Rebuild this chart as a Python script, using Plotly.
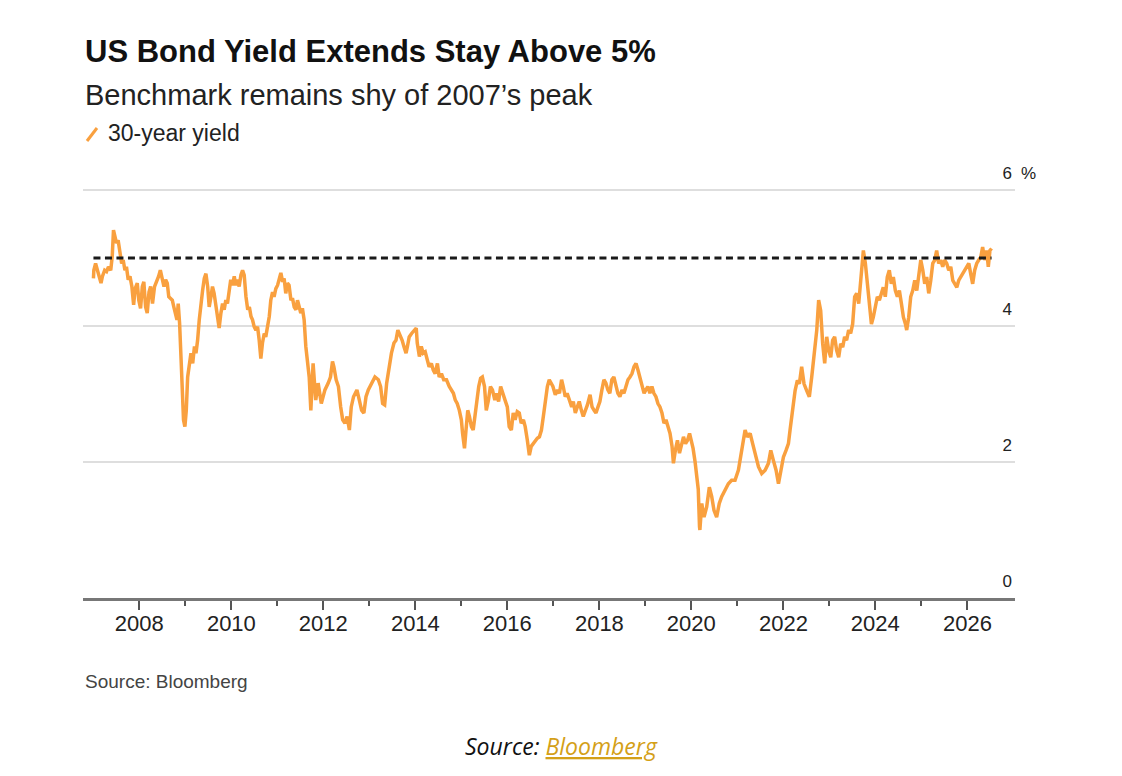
import plotly.graph_objects as go

# ---------------- data ----------------
dates = [
    "2007-01-02", "2007-01-05", "2007-01-19", "2007-02-03", "2007-02-17", "2007-03-03", "2007-03-14",
    "2007-04-01", "2007-04-16", "2007-05-01", "2007-05-19", "2007-05-31", "2007-06-10", "2007-06-21",
    "2007-07-04", "2007-07-17", "2007-07-31", "2007-08-14", "2007-08-26", "2007-09-09", "2007-09-21",
    "2007-10-05", "2007-10-19", "2007-11-03", "2007-11-17", "2007-11-29", "2007-12-16", "2007-12-28",
    "2008-01-11", "2008-01-25", "2008-02-06", "2008-02-20", "2008-03-04", "2008-03-18", "2008-03-31",
    "2008-04-15", "2008-05-01", "2008-05-18", "2008-06-02", "2008-06-16", "2008-06-29", "2008-07-15",
    "2008-07-28", "2008-08-10", "2008-08-22", "2008-09-05", "2008-09-19", "2008-10-01", "2008-10-15",
    "2008-10-26", "2008-11-05", "2008-11-16", "2008-11-28", "2008-12-06", "2008-12-17", "2008-12-28",
    "2009-01-08", "2009-01-19", "2009-02-02", "2009-02-14", "2009-02-28", "2009-03-14", "2009-03-26",
    "2009-04-08", "2009-04-21", "2009-05-05", "2009-05-18", "2009-05-31", "2009-06-13", "2009-06-27",
    "2009-07-09", "2009-07-23", "2009-08-04", "2009-08-17", "2009-08-31", "2009-09-13", "2009-09-26",
    "2009-10-10", "2009-10-23", "2009-11-05", "2009-11-18", "2009-12-01", "2009-12-15", "2009-12-27",
    "2010-01-10", "2010-01-24", "2010-02-05", "2010-02-19", "2010-03-04", "2010-03-18", "2010-03-31",
    "2010-04-13", "2010-04-27", "2010-05-11", "2010-05-24", "2010-06-06", "2010-06-18", "2010-07-01",
    "2010-07-15", "2010-07-28", "2010-08-10", "2010-08-23", "2010-09-05", "2010-09-19", "2010-10-01",
    "2010-10-15", "2010-10-29", "2010-11-10", "2010-11-24", "2010-12-06", "2010-12-20", "2011-01-03",
    "2011-01-15", "2011-01-29", "2011-02-12", "2011-02-24", "2011-03-09", "2011-03-22", "2011-04-04",
    "2011-04-19", "2011-05-01", "2011-05-15", "2011-05-29", "2011-06-10", "2011-06-24", "2011-07-06",
    "2011-07-19", "2011-08-02", "2011-08-15", "2011-08-28", "2011-09-11", "2011-09-24", "2011-10-12",
    "2011-11-02", "2011-11-21", "2011-12-16", "2012-01-14", "2012-02-09", "2012-02-27", "2012-03-14",
    "2012-03-25", "2012-04-12", "2012-04-30", "2012-05-18", "2012-06-03", "2012-06-21", "2012-07-08",
    "2012-07-26", "2012-08-10", "2012-08-28", "2012-09-24", "2012-10-13", "2012-10-31", "2012-11-18",
    "2012-12-05", "2012-12-23", "2013-01-19", "2013-02-14", "2013-03-13", "2013-03-31", "2013-04-16",
    "2013-05-02", "2013-05-18", "2013-06-07", "2013-06-25", "2013-07-15", "2013-07-31", "2013-08-15",
    "2013-09-02", "2013-09-18", "2013-10-02", "2013-10-19", "2013-10-30", "2013-11-13", "2013-12-02",
    "2013-12-20", "2014-01-08", "2014-01-16", "2014-02-02", "2014-02-17", "2014-03-04", "2014-03-20",
    "2014-04-06", "2014-04-20", "2014-05-08", "2014-05-23", "2014-06-07", "2014-06-25", "2014-07-09",
    "2014-07-27", "2014-08-14", "2014-09-05", "2014-09-27", "2014-10-13", "2014-10-30", "2014-11-14",
    "2014-11-29", "2014-12-16", "2015-01-01", "2015-01-11", "2015-01-26", "2015-02-07", "2015-02-21",
    "2015-03-06", "2015-03-22", "2015-04-05", "2015-04-19", "2015-05-01", "2015-05-19", "2015-06-03",
    "2015-06-17", "2015-07-04", "2015-07-18", "2015-08-04", "2015-08-20", "2015-09-05", "2015-09-24",
    "2015-10-08", "2015-10-24", "2015-11-09", "2015-11-24", "2015-12-14", "2016-01-01", "2016-01-16",
    "2016-02-02", "2016-02-17", "2016-03-03", "2016-03-20", "2016-04-05", "2016-04-20", "2016-05-08",
    "2016-05-22", "2016-06-08", "2016-06-24", "2016-07-09", "2016-07-26", "2016-08-10", "2016-08-26",
    "2016-09-12", "2016-09-28", "2016-10-13", "2016-10-30", "2016-11-14", "2016-11-29", "2016-12-28",
    "2017-01-16", "2017-02-03", "2017-02-18", "2017-03-07", "2017-03-20", "2017-04-05", "2017-04-20",
    "2017-05-07", "2017-05-26", "2017-06-08", "2017-06-24", "2017-07-10", "2017-07-25", "2017-08-11",
    "2017-08-26", "2017-09-12", "2017-09-28", "2017-10-19", "2017-11-04", "2017-11-20", "2017-12-05",
    "2017-12-21", "2018-01-05", "2018-01-21", "2018-02-06", "2018-02-22", "2018-03-09", "2018-03-25",
    "2018-04-10", "2018-04-26", "2018-05-12", "2018-05-28", "2018-06-13", "2018-06-29", "2018-07-15",
    "2018-07-31", "2018-08-16", "2018-09-01", "2018-09-17", "2018-10-03", "2018-10-19", "2018-11-04",
    "2018-11-20", "2018-12-06", "2018-12-22", "2019-01-05", "2019-01-21", "2019-02-06", "2019-02-22",
    "2019-03-10", "2019-03-26", "2019-04-11", "2019-04-27", "2019-05-13", "2019-05-29", "2019-06-14",
    "2019-06-30", "2019-07-16", "2019-08-01", "2019-08-12", "2019-08-28", "2019-09-13", "2019-09-29",
    "2019-10-15", "2019-10-31", "2019-11-16", "2019-12-02", "2019-12-18", "2020-01-01", "2020-01-15",
    "2020-01-31", "2020-02-12", "2020-02-25", "2020-03-06", "2020-03-09", "2020-03-24", "2020-04-11",
    "2020-05-02", "2020-05-23", "2020-06-11", "2020-06-29", "2020-07-20", "2020-08-10", "2020-08-29",
    "2020-09-24", "2020-10-21", "2020-11-16", "2020-12-13", "2021-01-09", "2021-02-05", "2021-03-03",
    "2021-03-21", "2021-04-12", "2021-05-02", "2021-05-21", "2021-06-17", "2021-07-13", "2021-08-09",
    "2021-09-04", "2021-09-23", "2021-10-14", "2021-11-04", "2021-11-23", "2021-12-11", "2022-01-01",
    "2022-01-22", "2022-02-10", "2022-02-23", "2022-03-16", "2022-04-04", "2022-04-22", "2022-05-08",
    "2022-05-26", "2022-06-14", "2022-07-05", "2022-07-26", "2022-08-14", "2022-09-02", "2022-09-23",
    "2022-10-08", "2022-10-24", "2022-11-09", "2022-11-25", "2022-12-11", "2022-12-27", "2023-01-12",
    "2023-01-27", "2023-02-12", "2023-02-28", "2023-03-16", "2023-04-01", "2023-04-17", "2023-05-02",
    "2023-05-18", "2023-06-03", "2023-06-19", "2023-07-05", "2023-07-21", "2023-08-06", "2023-08-22",
    "2023-09-07", "2023-09-17", "2023-09-28", "2023-10-14", "2023-10-30", "2023-11-15", "2023-12-01",
    "2023-12-16", "2024-01-01", "2024-01-17", "2024-02-02", "2024-02-18", "2024-03-04", "2024-03-20",
    "2024-04-05", "2024-04-21", "2024-05-07", "2024-05-23", "2024-06-08", "2024-06-24", "2024-07-10",
    "2024-07-26", "2024-08-11", "2024-08-27", "2024-09-06", "2024-09-22", "2024-10-08", "2024-10-24",
    "2024-11-09", "2024-11-25", "2024-12-11", "2024-12-27", "2025-01-12", "2025-01-27", "2025-02-12",
    "2025-02-28", "2025-03-16", "2025-04-01", "2025-04-17", "2025-05-02", "2025-05-18", "2025-06-03",
    "2025-06-19", "2025-07-05", "2025-07-21", "2025-08-06", "2025-08-22", "2025-09-07", "2025-09-23",
    "2025-10-09", "2025-10-24", "2025-11-09", "2025-11-25", "2025-12-11", "2025-12-27", "2026-01-12",
    "2026-01-27", "2026-02-12", "2026-02-28", "2026-03-16", "2026-04-01", "2026-04-17", "2026-05-02",
    "2026-05-18", "2026-06-03", "2026-06-16", "2026-06-29", "2026-07-12",
]

yield_30y = [
    4.70, 4.82, 4.92, 4.82, 4.73, 4.63, 4.73,
    4.82, 4.80, 4.87, 4.82, 5.02, 5.41, 5.31,
    5.22, 5.26, 5.07, 4.92, 4.97, 4.82, 4.87,
    4.68, 4.73, 4.58, 4.31, 4.55, 4.63, 4.38,
    4.26, 4.58, 4.65, 4.28, 4.19, 4.50, 4.58,
    4.33, 4.58, 4.65, 4.73, 4.82, 4.70, 4.58,
    4.68, 4.63, 4.43, 4.41, 4.38, 4.28, 4.19,
    4.09, 4.33, 4.04, 3.50, 3.01, 2.62, 2.52,
    2.76, 3.25, 3.50, 3.60, 3.45, 3.70, 3.60,
    3.79, 4.09, 4.38, 4.53, 4.70, 4.77, 4.58,
    4.28, 4.43, 4.58, 4.48, 4.28, 4.14, 3.97,
    4.19, 4.33, 4.24, 4.38, 4.33, 4.53, 4.68,
    4.60, 4.73, 4.60, 4.68, 4.58, 4.75, 4.82,
    4.75, 4.43, 4.24, 4.28, 4.14, 4.09, 3.99,
    3.94, 3.99, 3.79, 3.52, 3.75, 3.89, 3.84,
    3.99, 4.14, 4.38, 4.50, 4.43, 4.55, 4.60,
    4.68, 4.78, 4.65, 4.70, 4.48, 4.63, 4.60,
    4.38, 4.41, 4.28, 4.24, 4.38, 4.28, 4.19,
    4.26, 4.09, 3.70, 3.45, 3.25, 2.76, 3.45,
    2.91, 3.16, 2.86, 3.06, 3.16, 3.25, 3.48,
    3.40, 3.21, 3.11, 2.81, 2.62, 2.57, 2.67,
    2.47, 2.81, 2.96, 3.06, 2.91, 2.76, 2.72,
    2.96, 3.06, 3.16, 3.25, 3.21, 3.11, 2.86,
    2.84, 3.16, 3.40, 3.60, 3.75, 3.79, 3.94,
    3.87, 3.79, 3.70, 3.60, 3.70, 3.84, 3.89,
    3.94, 3.97, 3.75, 3.55, 3.70, 3.60, 3.62,
    3.50, 3.40, 3.45, 3.35, 3.30, 3.45, 3.25,
    3.30, 3.21, 3.21, 3.11, 3.06, 3.01, 2.91,
    2.86, 2.76, 2.62, 2.42, 2.20, 2.47, 2.76,
    2.67, 2.52, 2.47, 2.67, 2.86, 3.11, 3.23,
    3.25, 3.11, 2.76, 2.91, 3.11, 3.06, 2.91,
    3.01, 2.89, 3.11, 3.01, 2.91, 2.81, 2.52,
    2.47, 2.72, 2.62, 2.74, 2.72, 2.57, 2.62,
    2.52, 2.32, 2.10, 2.23, 2.27, 2.32, 2.35,
    2.37, 2.47, 2.67, 2.91, 3.11, 3.21, 3.11,
    2.99, 3.06, 3.01, 3.21, 3.11, 2.96, 3.01,
    2.91, 2.81, 2.89, 2.72, 2.81, 2.89, 2.76,
    2.67, 2.76, 2.84, 2.99, 2.81, 2.76, 2.72,
    2.81, 2.89, 3.06, 3.21, 3.16, 3.06, 3.01,
    3.21, 3.25, 3.11, 3.01, 2.96, 3.06, 3.01,
    3.11, 3.21, 3.25, 3.30, 3.40, 3.45, 3.35,
    3.25, 3.11, 3.01, 3.06, 3.11, 3.01, 3.11,
    3.01, 2.96, 2.86, 2.81, 2.72, 2.57, 2.62,
    2.52, 2.42, 2.23, 1.98, 2.18, 2.32, 2.13,
    2.23, 2.37, 2.27, 2.32, 2.42, 2.32, 2.20,
    2.00, 1.80, 1.60, 1.05, 1.00, 1.39, 1.19,
    1.34, 1.63, 1.49, 1.29, 1.19, 1.39, 1.49,
    1.58, 1.68, 1.73, 1.73, 1.88, 2.17, 2.47,
    2.37, 2.42, 2.27, 2.12, 1.93, 1.83, 1.88,
    1.98, 2.17, 2.02, 1.88, 1.68, 1.88, 2.07,
    2.17, 2.27, 2.47, 2.76, 3.05, 3.20, 3.15,
    3.40, 3.15, 3.05, 2.96, 3.25, 3.54, 3.94,
    4.38, 4.23, 3.74, 3.45, 3.84, 3.64, 3.54,
    3.79, 3.84, 3.64, 3.54, 3.74, 3.69, 3.84,
    3.79, 3.94, 3.89, 4.03, 4.43, 4.48, 4.33,
    4.62, 4.92, 5.11, 4.92, 4.62, 4.33, 4.03,
    4.13, 4.28, 4.43, 4.38, 4.48, 4.57, 4.43,
    4.72, 4.82, 4.62, 4.72, 4.52, 4.43, 4.52,
    4.33, 4.13, 4.03, 3.94, 4.13, 4.43, 4.52,
    4.67, 4.52, 4.72, 4.97, 4.82, 4.62, 4.72,
    4.48, 4.67, 4.92, 4.97, 5.11, 4.92, 4.97,
    4.87, 4.97, 4.92, 4.82, 4.87, 4.67, 4.62,
    4.57, 4.67, 4.72, 4.77, 4.82, 4.87, 4.92,
    4.77, 4.62, 4.82, 4.92, 4.97, 5.01, 5.16,
    4.97, 5.11, 4.87, 5.11, 5.14,
]

peak_level = 5.0
y_tick_values = [0, 2, 4, 6]
y_tick_labels = ["0", "2", "4", "6"]
minor_tick_dates = ["2009-01-01", "2011-01-01", "2013-01-01", "2015-01-01", "2017-01-01",
                    "2019-01-01", "2021-01-01", "2023-01-01", "2025-01-01"]
x_range = ["2006-10-11", "2027-01-14"]
y_range = [0, 6.5]

title_text = "US Bond Yield Extends Stay Above 5%"
subtitle_text = "Benchmark remains shy of 2007\u2019s peak"
legend_text = "30-year yield"
source_text = "Source: Bloomberg"

ORANGE = "#F9A03F"
SANS = "Liberation Sans, Arial, Helvetica, sans-serif"

# plot area: x 83..1015 px, y 156..598 px
fig = go.Figure()

fig.add_trace(go.Scatter(
    x=dates, y=yield_30y, mode="lines",
    line=dict(color=ORANGE, width=3.5),
    name=legend_text, showlegend=False, hoverinfo="skip",
))

fig.add_trace(go.Scatter(
    x=[dates[0], dates[-1]], y=[peak_level, peak_level], mode="lines",
    line=dict(color="#1a1a1a", width=3, dash="7px,4.5px"),
    showlegend=False, hoverinfo="skip",
))

H = 442.0  # plot height in px
def py(px_y):
    return (598 - px_y) / H

annotations = [
    dict(text="<b>" + title_text + "</b>", x=0, y=py(52), xref="paper", yref="paper",
         xanchor="left", yanchor="middle", showarrow=False,
         font=dict(family=SANS, size=31, color="#111111")),
    dict(text=subtitle_text, x=0, y=py(95), xref="paper", yref="paper",
         xanchor="left", yanchor="middle", showarrow=False,
         font=dict(family=SANS, size=29, color="#222222")),
    dict(text=legend_text, x=0.0247, y=py(133), xref="paper", yref="paper",
         xanchor="left", yanchor="middle", showarrow=False,
         font=dict(family=SANS, size=23, color="#222222")),
    dict(text="%", x=1, y=6, xref="paper", yref="y", xanchor="left", yanchor="middle",
         xshift=4, yshift=17, showarrow=False,
         font=dict(family=SANS, size=17, color="#222222")),
    dict(text=source_text, x=0, y=py(681), xref="paper", yref="paper",
         xanchor="left", yanchor="middle", showarrow=False,
         font=dict(family=SANS, size=19, color="#444444")),
    dict(text="<i>Source: <span style='color:#D4A017;text-decoration:underline'>Bloomberg</span></i>",
         x=0.5129, y=py(746), xref="paper", yref="paper",
         xanchor="center", yanchor="middle", showarrow=False,
         font=dict(family="Open Sans, sans-serif", size=23, color="#111111")),
]

shapes = [
    dict(type="line", xref="paper", yref="paper", x0=0.0043, y0=py(141), x1=0.0150, y1=py(128),
         line=dict(color=ORANGE, width=3)),
]

fig.update_layout(
    width=1122, height=776,
    margin=dict(l=83, r=107, t=156, b=178),
    paper_bgcolor="white", plot_bgcolor="white",
    annotations=annotations, shapes=shapes,
    xaxis=dict(
        type="date", range=x_range,
        tick0="2008-01-01", dtick="M24", tickformat="%Y",
        ticks="outside", ticklen=9, tickwidth=2, tickcolor="#555555",
        ticklabelstandoff=-5,
        showline=True, linecolor="#777777", linewidth=2.5,
        showgrid=False, zeroline=False,
        tickfont=dict(family=SANS, size=22, color="#222222"),
        minor=dict(tickmode="array", tickvals=minor_tick_dates, ticks="outside", ticklen=5,
                   tickwidth=2, tickcolor="#555555", showgrid=False),
    ),
    yaxis=dict(
        range=y_range, side="right",
        tickvals=y_tick_values, ticktext=y_tick_labels,
        ticks="", ticklabelposition="inside", ticklabelshift=-17,
        showgrid=True, gridcolor="#DEDEDE", gridwidth=1.5,
        zeroline=False, showline=False,
        tickfont=dict(family=SANS, size=17, color="#222222"),
    ),
)

fig.write_html("out.html")
